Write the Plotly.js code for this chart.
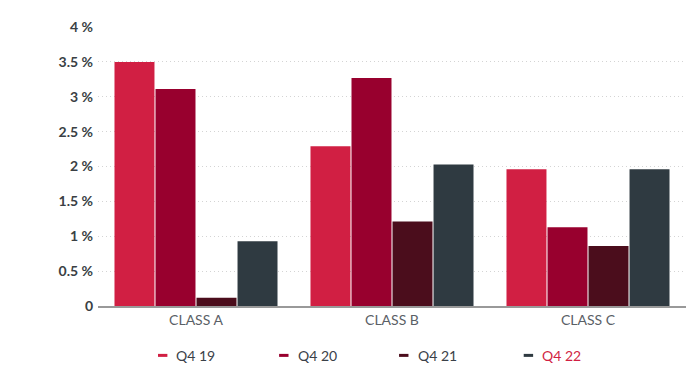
<!DOCTYPE html>
<html>
<head>
<meta charset="utf-8">
<script src="https://cdn.plot.ly/plotly-3.0.1.min.js"></script>
<style>html,body{margin:0;padding:0;background:#fff}#chart{width:694px;height:366px}</style>
</head>
<body>
<div id="chart"></div>
<script>
const categories = ["CLASS A", "CLASS B", "CLASS C"];
const seriesNames = ["Q4 19", "Q4 20", "Q4 21", "Q4 22"];
const q419 = [3.5, 2.29, 1.96];
const q420 = [3.11, 3.27, 1.13];
const q421 = [0.12, 1.21, 0.86];
const q422 = [0.93, 2.03, 1.96];
const tickVals = [0, 0.5, 1, 1.5, 2, 2.5, 3, 3.5, 4];
const tickLabels = ["0", "0.5 %", "1 %", "1.5 %", "2 %", "2.5 %", "3 %", "3.5 %", "4 %"];

const colors = ["#d11f43", "#98002e", "#4b0d1c", "#2f3a41"];
const legendTextColors = ["#3a4148", "#3a4148", "#3a4148", "#d11f43"];
const values = [q419, q420, q421, q422];

const traces = values.map((v, i) => ({
  type: "bar", x: categories, y: v, name: seriesNames[i],
  marker: {color: colors[i]}, showlegend: false, hoverinfo: "none"
}));

const legendX = [0.102, 0.308, 0.512, 0.724];
const shapes = [];
const annotations = [];
seriesNames.forEach((n, i) => {
  shapes.push({type: "line", xref: "paper", yref: "paper", x0: legendX[i], x1: legendX[i] + 0.016,
    y0: -0.177, y1: -0.177, line: {color: colors[i], width: 3}});
  annotations.push({xref: "paper", yref: "paper", x: legendX[i] + 0.028, y: -0.177, xanchor: "left", yanchor: "middle",
    text: n, showarrow: false, font: {size: 14, color: legendTextColors[i], family: "Lato, 'Open Sans', sans-serif"}});
});

const layout = {
  width: 694, height: 366,
  margin: {l: 98, r: 8, t: 27, b: 60},
  paper_bgcolor: "#fff", plot_bgcolor: "#fff",
  barmode: "group", bargap: 0.163, bargroupgap: 0.025,
  showlegend: false,
  xaxis: {
    type: "category", showgrid: false, showline: true, linecolor: "#999", linewidth: 2,
    ticks: "", tickfont: {size: 14, color: "#5a6066", family: "Lato, 'Open Sans', sans-serif"}
  },
  yaxis: {
    range: [0, 4], tickvals: tickVals, ticktext: tickLabels, showline: false,
    showgrid: true, gridcolor: "#d4d4d4", griddash: "1px,3px", gridwidth: 1,
    zeroline: false, ticks: "", ticklabelstandoff: 4,
    tickfont: {size: 14, color: "#3a3f44", family: "Lato, 'Open Sans', sans-serif", weight: "bold"}
  },
  shapes: shapes,
  annotations: annotations
};

Plotly.newPlot("chart", traces, layout, {staticPlot: true, displayModeBar: false});
</script>
</body>
</html>
